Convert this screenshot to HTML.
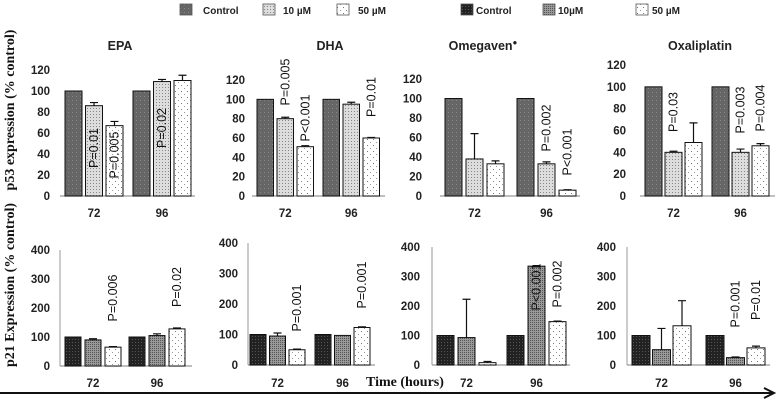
<!DOCTYPE html>
<html><head><meta charset="utf-8"><style>
body{margin:0;background:#fff;}
svg{display:block;font-family:"Liberation Sans",sans-serif;}
.tk{font-size:11.5px;font-weight:bold;fill:#222;}
.ttl{font-size:12.5px;font-weight:bold;fill:#222;}
.pl{font-size:12.5px;font-weight:normal;fill:#111;}
.lg{font-size:10px;font-weight:bold;fill:#222;}
.yt{font-family:"Liberation Serif",serif;font-size:14px;font-weight:bold;fill:#111;}
</style></head><body>
<svg id="fig" width="778" height="402" viewBox="0 0 778 402">
<defs>
<pattern id="pTopC" width="4" height="4" patternUnits="userSpaceOnUse"><rect width="4" height="4" fill="#666"/><rect width="1" height="1" fill="#888"/></pattern>
<pattern id="pTop10" width="3" height="3" patternUnits="userSpaceOnUse"><rect width="3" height="3" fill="#ddd"/><rect width="1" height="1" fill="#888"/></pattern>
<pattern id="p50" width="6" height="6" patternUnits="userSpaceOnUse"><rect width="6" height="6" fill="#fff"/><rect x="1" y="1" width="1" height="1" fill="#777"/><rect x="4" y="4" width="1" height="1" fill="#999"/></pattern>
<pattern id="pBotC" width="3" height="3" patternUnits="userSpaceOnUse"><rect width="3" height="3" fill="#222"/><rect width="1" height="1" fill="#555"/></pattern>
<pattern id="pBot10" width="2" height="2" patternUnits="userSpaceOnUse"><rect width="2" height="2" fill="#999"/><rect width="1" height="1" fill="#555"/></pattern>
</defs>
<g id="root"></g>
</svg>
<script>
// Data
const categories = ["72","96"];
const seriesNames = ["Control","10 µM","50 µM"];
const topTicks = ["0","20","40","60","80","100","120"];
const botTicks = ["0","100","200","300","400"];
const topTitles = ["EPA","DHA","Omegaven","Oxaliplatin"];
// p53 values [group][series]
const p53EPA = [[100,86,67],[100,109,110]];
const p53EPAerr = [[0,3,4],[0,2,5]];
const p53DHA = [[100,80,51],[100,95,60]];
const p53DHAerr = [[0,1.5,1],[0,2,0.5]];
const p53Omega = [[100,38,33],[100,33,6]];
const p53OmegaErr = [[0,26,3],[0,2,0.5]];
const p53Oxali = [[100,40,49],[100,40,46]];
const p53OxaliErr = [[0,1,18],[0,3,2]];
// p21 values
const p21EPA = [[100,90,65],[100,105,128]];
const p21EPAerr = [[0,4,2],[0,6,3]];
const p21DHA = [[100,95,50],[100,97,123]];
const p21DHAerr = [[0,10,2],[0,0,2]];
const p21Omega = [[100,93,8],[100,335,147]];
const p21OmegaErr = [[0,130,4],[0,2,2]];
const p21Oxali = [[100,52,133],[100,25,58]];
const p21OxaliErr = [[0,72,85],[0,2,6]];
// P-value labels [group, series, text]
const p53EPAp = [[0,1,"P=0.01"],[0,2,"P=0.005"],[1,1,"P=0.02"]];
const p53DHAp = [[0,1,"P=0.005"],[0,2,"P<0.001"],[1,2,"P=0.01"]];
const p53OmegaP = [[1,1,"P=0.002"],[1,2,"P<0.001"]];
const p53OxaliP = [[0,1,"P=0.03"],[1,1,"P=0.003"],[1,2,"P=0.004"]];
const p21EPAp = [[0,2,"P=0.006"],[1,2,"P=0.02"]];
const p21DHAp = [[0,2,"P=0.001"],[1,2,"P=0.001"]];
const p21OmegaP = [[1,1,"P<0.001"],[1,2,"P=0.002"]];
const p21OxaliP = [[1,1,"P=0.001"],[1,2,"P=0.01"]];

const NS="http://www.w3.org/2000/svg";
const root=document.getElementById('root');
function mk(tag,attrs,parent,txt){const e=document.createElementNS(NS,tag);for(const k in attrs)e.setAttribute(k,attrs[k]);if(txt!==undefined)e.textContent=txt;(parent||root).appendChild(e);return e;}

const panels=[
 {name:"p53-epa",vals:p53EPA,err:p53EPAerr,pv:p53EPAp,top:true,x0:65,bs:20.5,gs:68,bw:17,y0:196,yT:70,max:120,tx:50,ax0:60,ax1:195,pys:[[148],[155],[128]],title:0},
 {name:"p53-dha",vals:p53DHA,err:p53DHAerr,pv:p53DHAp,top:true,x0:257,bs:20,gs:66,bw:16.5,y0:196,yT:80,max:120,tx:245,ax0:252,ax1:385,pys:[[82],[118],[97]],title:1},
 {name:"p53-omegaven",vals:p53Omega,err:p53OmegaErr,pv:p53OmegaP,top:true,x0:445,bs:21,gs:72,bw:17,y0:196,yT:79,max:120,tx:422,ax0:440,ax1:580,pys:[[128],[152]],title:2},
 {name:"p53-oxaliplatin",vals:p53Oxali,err:p53OxaliErr,pv:p53OxaliP,top:true,x0:645,bs:20,gs:67,bw:17,y0:196,yT:65,max:120,tx:626,ax0:640,ax1:775,pys:[[112],[110],[108]],title:3},
 {name:"p21-epa",vals:p21EPA,err:p21EPAerr,pv:p21EPAp,top:false,x0:65,bs:20,gs:64,bw:16,y0:366,yT:250,max:400,tx:50,ax0:60,ax1:192,pys:[[298],[287]],title:-1},
 {name:"p21-dha",vals:p21DHA,err:p21DHAerr,pv:p21DHAp,top:false,x0:250,bs:19.5,gs:65,bw:16,y0:365,yT:243,max:400,tx:238,ax0:248,ax1:375,pys:[[308],[285]],title:-1},
 {name:"p21-omegaven",vals:p21Omega,err:p21OmegaErr,pv:p21OmegaP,top:false,x0:437,bs:21,gs:70,bw:17,y0:365,yT:247,max:400,tx:420,ax0:432,ax1:570,pys:[[287],[284]],title:-1},
 {name:"p21-oxaliplatin",vals:p21Oxali,err:p21OxaliErr,pv:p21OxaliP,top:false,x0:632,bs:20.5,gs:74,bw:18,y0:365,yT:247,max:400,tx:616,ax0:627,ax1:770,pys:[[304],[300]],title:-1}
];
const titleX=[120,330,483,700];

panels.forEach(p=>{
  const g=mk('g',{});
  
  
  const y=v=>p.y0-(v/p.max)*(p.y0-p.yT);
  const ticks=p.top?topTicks:botTicks;
  ticks.forEach(t=>{
    const tl=mk('text',{x:p.tx,y:y(+t)+4,'text-anchor':'end',class:'tk'},g,t);
    
    
  });
  const base=mk('line',{x1:p.ax0,y1:p.y0,x2:p.ax1,y2:p.y0,stroke:'#999','stroke-width':1.2},g);
  
  
  if(!p.top){
    const va=mk('line',{x1:p.ax0,y1:p.yT,x2:p.ax0,y2:p.y0,stroke:'#999','stroke-width':1},g);
    
    
  }
  const fills=p.top?['url(#pTopC)','url(#pTop10)','url(#p50)']:['url(#pBotC)','url(#pBot10)','url(#p50)'];
  p.vals.forEach((grp,gi)=>{
    grp.forEach((v,si)=>{
      const x=p.x0+gi*p.gs+si*p.bs;
      const r=mk('rect',{x:x,y:y(v),width:p.bw,height:p.y0-y(v),fill:fills[si],stroke:'#111','stroke-width':1},g);
      
      
      const e=p.err[gi][si];
      if(e>0){
        const cx=x+p.bw/2;
        const el=mk('path',{d:`M${cx},${y(v)} V${y(v+e)} M${cx-4},${y(v+e)} H${cx+4}`,stroke:'#111','stroke-width':1.2,fill:'none'},g);
        
        
      }
    });
    const cxg=p.x0+gi*p.gs+p.bs+p.bw/2;
    const cl=mk('text',{x:cxg,y:p.top?217:387,'text-anchor':'middle',class:'tk'},g,categories[gi]);
    
    
  });
  p.pv.forEach((pv,i)=>{
    const cx=p.x0+pv[0]*p.gs+pv[1]*p.bs+p.bw/2+4;
    const cy=p.pys[i][0];
    const t=mk('text',{x:cx,y:cy,transform:`rotate(-90 ${cx} ${cy})`,'text-anchor':'middle',class:'pl'},g,pv[2]);
    
    
  });
  if(p.title>=0){
    const tt=mk('text',{x:titleX[p.title],y:50,'text-anchor':'middle',class:'ttl'},g,topTitles[p.title]);
    
    
    if(p.title===2){
      const sup=mk('tspan',{dy:-5,'font-size':'8px'},tt,'\u25CF');
    }
  }
});

// Legends
const legTop=[[180,203,'url(#pTopC)'],[263,283,'url(#pTop10)'],[337,358,'url(#p50)']];
const legBot=[[461,476,'url(#pBotC)'],[543,558,'url(#pBot10)'],[636,652,'url(#p50)']];
const legBotNames=["Control","10µM","50 µM"];
[[legTop,seriesNames],[legBot,legBotNames]].forEach(([L,names])=>{
  L.forEach((l,i)=>{
    const lg=mk('g',{});
    
    
    mk('rect',{x:l[0],y:4,width:12,height:11,fill:l[2],stroke:'#555','stroke-width':0.8},lg);
    mk('text',{x:l[1],y:14,class:'lg'},lg,names[i]);
  });
});

const yt1=mk('text',{x:14,y:110,transform:'rotate(-90 14 110)','text-anchor':'middle',class:'yt'},root,'p53 expression (% control)');


const yt2=mk('text',{x:14,y:285,transform:'rotate(-90 14 285)','text-anchor':'middle',class:'yt'},root,'p21 Expression (% control)');


const xt=mk('text',{x:366,y:386,class:'yt','font-size':'13px'},root,'Time (hours)');


const arr=mk('path',{d:'M0,393 H772 M764,388 L774,393 L764,398',stroke:'#111','stroke-width':2,fill:'none'},root);


</script>
</body></html>
